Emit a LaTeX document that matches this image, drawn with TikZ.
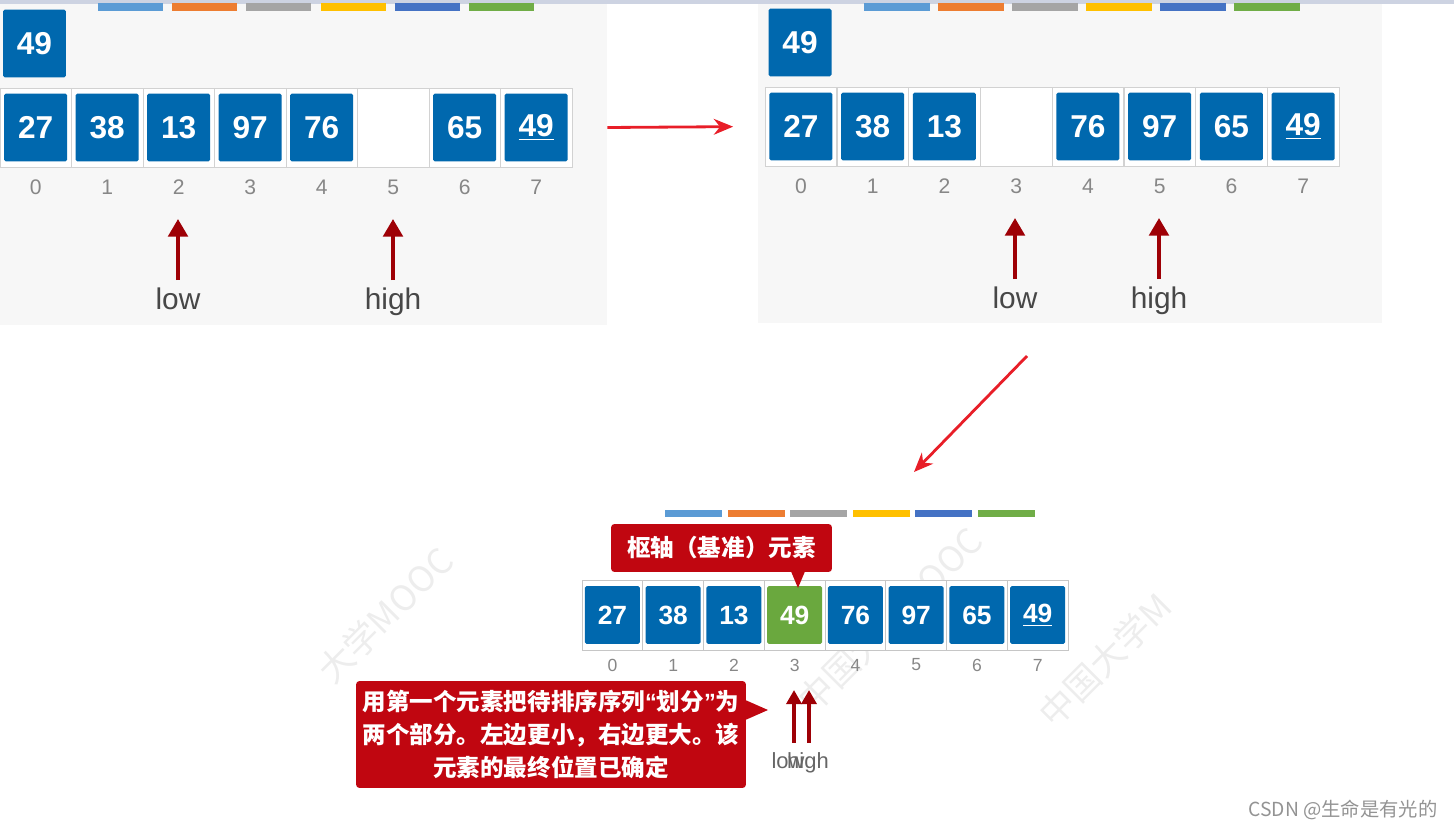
\documentclass[tikz,border=0pt]{standalone}
\usepackage{fontspec}
\setmainfont{Liberation Sans}
\newfontfamily\cjk{Noto Sans CJK SC}
\newfontfamily\lat{Liberation Sans}
\usetikzlibrary{arrows.meta,calc}

\definecolor{azul}{RGB}{0,104,174}
\definecolor{verde}{RGB}{106,168,62}
\definecolor{rojocaja}{RGB}{192,6,16}
\definecolor{rojoflecha}{RGB}{158,0,6}
\definecolor{rojolinea}{RGB}{232,30,40}
\definecolor{fondo}{RGB}{247,247,247}
\definecolor{barra}{RGB}{205,211,226}
\definecolor{gris}{RGB}{135,135,135}
\definecolor{c1}{RGB}{91,155,213}
\definecolor{c2}{RGB}{237,125,49}
\definecolor{c3}{RGB}{165,165,165}
\definecolor{c4}{RGB}{255,192,0}
\definecolor{c5}{RGB}{68,114,196}
\definecolor{c6}{RGB}{112,173,71}

\tikzset{
  panel/.style={fill=fondo, inner sep=0pt},
  celda/.style={draw=gray!35, fill=white, minimum width=1.43cm, minimum height=1.58cm, inner sep=0pt},
  celdita/.style={draw=gray!45, fill=white, minimum width=1.215cm, minimum height=1.4cm, inner sep=0pt},
  bloque/.style={fill=azul, rounded corners=1pt, text=white, minimum width=1.26cm, minimum height=1.36cm,
    inner sep=0pt, font=\bfseries\fontsize{18}{18}\selectfont},
  bloquito/.style={fill=azul, rounded corners=1pt, text=white, minimum width=1.1cm, minimum height=1.16cm,
    inner sep=0pt, font=\bfseries\fontsize{15}{15}\selectfont},
  indice/.style={text=gris, font=\fontsize{12}{12}\selectfont},
  indicito/.style={text=gris, font=\fontsize{10}{10}\selectfont},
  puntero/.style={text=black!72, inner sep=0pt, text height=0.75em, text depth=0.25em, font=\fontsize{17}{17}\selectfont},
  punterito/.style={text=black!60, inner sep=0pt, text height=0.75em, text depth=0.25em, font=\fontsize{12.5}{12.5}\selectfont},
  flecha/.style={rojoflecha, line width=2.3pt, -{Triangle[length=10pt,width=11pt]}, shorten <=9pt},
  flechita/.style={rojoflecha, line width=2pt, -{Triangle[length=8pt,width=8.5pt]}, shorten <=7pt},
  conector/.style={rojolinea, line width=1.6pt, -{Stealth[length=11pt,width=9pt]}},
  nota/.style={fill=rojocaja, rounded corners=2pt, text=white, align=center, inner sep=0pt,
    font=\cjk\bfseries\fontsize{13.4}{18.7}\selectfont},
  marca/.style={text=gray!14, rotate=45, font=\cjk\fontsize{20}{20}\selectfont}
}

\begin{document}
\begin{tikzpicture}[x=0.02cm,y=-0.02cm]
  \useasboundingbox (0,0) rectangle (1454,831);

  % Paneles de fondo
  \node at (303.5,162.5) [panel, minimum width=12.14cm, minimum height=6.5cm] (panelA) {};
  \node at (1070,161.5) [panel, minimum width=12.48cm, minimum height=6.46cm] (panelB) {};
  \fill[barra] (0,0) rectangle (1454,4);

  % Barras de colores
  \foreach \c [count=\k from 0] in {c1,c2,c3,c4,c5,c6} {
    \fill[\c] ({98+74.2*\k},3) rectangle ++(65,8);
    \fill[\c] ({864+74*\k},3) rectangle ++(66,8);
    \fill[\c] ({665+62.6*\k},510) rectangle ++(57,7);
  }

  % Primer estado
  \node at (34.5,43.5) [bloque] (pivA) {49};
  \foreach \i in {0,...,7}
    \node at ({35.7+71.5*\i},127.5) [celda] (a\i) {};
  \foreach \i/\v in {0/27,1/38,2/13,3/97,4/76,6/65}
    \node at (a\i) [bloque] (va\i) {\v};
  \node at (a7) [bloque] (va7) {\underline{49}};
  \foreach \i in {0,...,7}
    \node at ({35.7+71.5*\i},187) [indice] (ia\i) {\i};
  \node at (178,305) [puntero] (lowa) {low};
  \node at (393,305) [puntero] (higha) {high};
  \coordinate (pla) at (178,219);
  \coordinate (pha) at (393,219);
  \draw[flecha] (lowa.north) -- (pla);
  \draw[flecha] (higha.north) -- (pha);

  % Segundo estado
  \node at (800,42.5) [bloque] (pivB) {49};
  \foreach \i in {0,...,7}
    \node at ({800.9+71.75*\i},126.5) [celda] (b\i) {};
  \foreach \i/\v in {0/27,1/38,2/13,4/76,5/97,6/65}
    \node at (b\i) [bloque] (vb\i) {\v};
  \node at (b7) [bloque] (vb7) {\underline{49}};
  \foreach \i in {0,...,7}
    \node at ({800.9+71.75*\i},186) [indice] (ib\i) {\i};
  \node at (1015,304) [puntero] (lowb) {low};
  \node at (1159,304) [puntero] (highb) {high};
  \coordinate (plb) at (1015,218);
  \coordinate (phb) at (1159,218);
  \draw[flecha] (lowb.north) -- (plb);
  \draw[flecha] (highb.north) -- (phb);

  % Flechas entre estados
  \draw[conector, shorten >=14pt] (panelA.east |- a7) -- (panelB.west |- b0);
  \coordinate (ini2) at (1027,356);
  \coordinate (fin2) at (914,472);
  \draw[conector] (ini2) -- (fin2);

  % Marcas de agua
  \node at (385,615) [marca] (m1) {大学MOOC};
  \node at (890,620) [marca] (m2) {中国大学MOOC};
  \node at (1105,660) [marca] (m3) {中国大学M};

  % Estado final
  \foreach \i in {0,...,7}
    \node at ({612.4+60.75*\i},615) [celdita] (c\i) {};
  \foreach \i/\v in {0/27,1/38,2/13,4/76,5/97,6/65}
    \node at (c\i) [bloquito] (vc\i) {\v};
  \node at (c3) [bloquito, fill=verde] (vc3) {49};
  \node at (c7) [bloquito] (vc7) {\underline{49}};
  \foreach \i in {0,...,7}
    \node at ({612.4+60.75*\i},665) [indicito] (ic\i) {\i};
  \node at (788,764) [punterito] (lowc) {low};
  \node at (808,764) [punterito] (highc) {high};
  \coordinate (plc) at (794,690);
  \coordinate (phc) at (809,690);
  \draw[flechita] (lowc.north -| plc) -- (plc);
  \draw[flechita] (highc.north -| phc) -- (phc);

  % Notas
  \node at (721.5,548) [nota, minimum width=4.42cm, minimum height=0.96cm] (pivote) {枢轴（基准）元素};
  \coordinate (punta1) at (798,588);
  \fill[rojocaja] ($(pivote.south -| punta1)+(-7,-1)$) -- (punta1) -- ($(pivote.south -| punta1)+(7,-1)$) -- cycle;
  \node at (551,734.5) [nota, minimum width=7.8cm, minimum height=2.14cm] (explica)
    {用第一个元素把待排序序列{\lat “}划分{\lat ”}为\\两个部分。左边更小，右边更大。该\\元素的最终位置已确定};
  \coordinate (punta2) at (768,710);
  \fill[rojocaja] ($(explica.east |- punta2)+(-1,-10)$) -- (punta2) -- ($(explica.east |- punta2)+(-1,10)$) -- cycle;

  % Firma
  \node at (1343,810) [text=gray!85, font=\cjk\fontsize{11}{11}\selectfont] (firma) {CSDN @生命是有光的};
\end{tikzpicture}
\end{document}
